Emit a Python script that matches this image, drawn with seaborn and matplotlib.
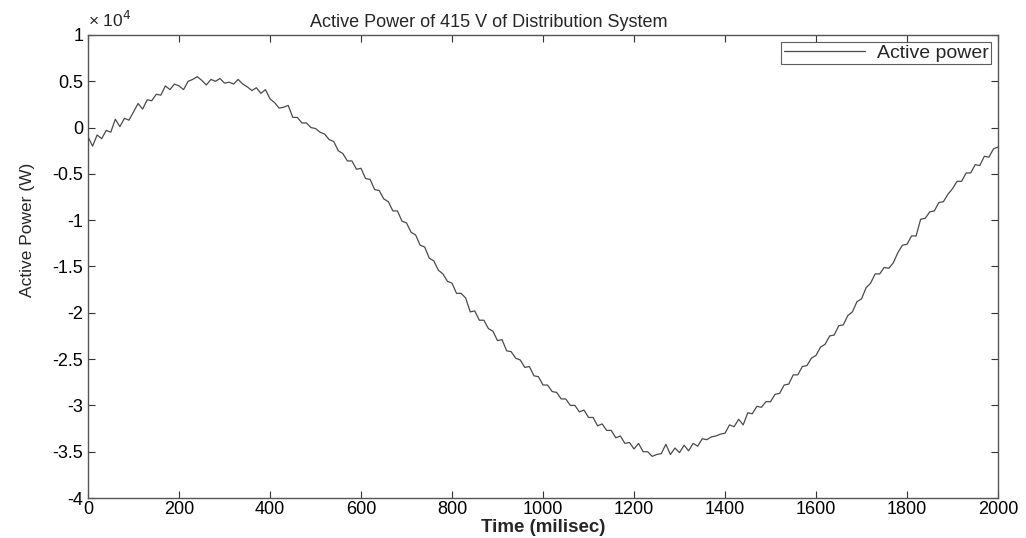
import numpy as np
import pandas as pd
import matplotlib
matplotlib.use("Agg")
import matplotlib.pyplot as plt
from matplotlib.ticker import FuncFormatter, MultipleLocator
import seaborn as sns

# ── Data (time in ms, power in kW) ───────────────────────────────────────────
time_ms = np.arange(0, 2001, 10)

power_kw = [
    -1.0, -2.0, -0.8, -1.2, -0.3, -0.5, 0.9, 0.1, 1.0, 0.8,
    1.7, 2.6, 2.0, 3.0, 2.9, 3.6, 3.5, 4.5, 4.1, 4.7,
    4.5, 4.1, 5.0, 5.2, 5.5, 5.1, 4.6, 5.2, 5.0, 5.3,
    4.8, 4.9, 4.7, 5.2, 4.7, 4.4, 4.0, 4.3, 3.7, 4.1,
    3.1, 2.7, 2.1, 2.2, 2.4, 1.1, 1.1, 0.5, 0.5, 0.0,
    -0.1, -0.5, -0.7, -1.3, -1.5, -2.5, -2.8, -3.6, -3.6, -4.5,
    -4.4, -5.5, -5.6, -6.7, -6.8, -7.7, -8.0, -9.0, -9.0, -10.1,
    -10.3, -11.3, -11.6, -12.7, -12.9, -14.1, -14.4, -15.4, -15.8, -16.6,
    -16.8, -17.9, -17.9, -18.4, -19.9, -19.8, -20.8, -20.8, -21.7, -22.0,
    -23.0, -22.9, -24.1, -24.2, -24.9, -25.1, -25.9, -25.8, -26.8, -26.9,
    -27.8, -27.8, -28.5, -28.6, -29.3, -29.3, -30.0, -30.0, -30.7, -30.5,
    -31.3, -31.3, -32.2, -32.0, -32.7, -32.7, -33.5, -33.3, -34.1, -34.0,
    -34.7, -34.1, -35.0, -35.0, -35.5, -35.3, -35.2, -34.2, -35.3, -34.6,
    -35.1, -34.3, -34.9, -34.1, -34.4, -33.6, -33.7, -33.4, -33.3, -33.1,
    -33.0, -32.1, -32.3, -31.5, -32.1, -30.8, -30.9, -30.1, -30.2, -29.6,
    -29.6, -28.8, -28.7, -27.8, -27.7, -26.7, -26.7, -25.8, -25.7, -24.9,
    -24.6, -23.7, -23.4, -22.5, -22.4, -21.4, -21.3, -20.3, -19.9, -18.8,
    -18.5, -17.3, -16.8, -15.8, -15.8, -15.1, -15.2, -14.6, -13.5, -12.7,
    -12.6, -11.7, -11.7, -9.9, -9.8, -9.1, -9.0, -8.1, -8.0, -7.2,
    -6.6, -5.8, -5.8, -4.9, -4.9, -4.0, -4.1, -3.1, -3.2, -2.3,
    -2.1,
]

df = pd.DataFrame({"time": time_ms, "power": np.array(power_kw) * 1000.0})

# ── Style (MATLAB-ish) ───────────────────────────────────────────────────────
sns.set_style("ticks")
plt.rcParams["font.family"] = ["Liberation Sans", "DejaVu Sans"]
plt.rcParams["xtick.direction"] = "in"
plt.rcParams["ytick.direction"] = "in"

fig = plt.figure(figsize=(10.26, 5.38), dpi=100)
ax = fig.add_axes([0.0858, 0.0743, 0.8869, 0.8607])

sns.lineplot(data=df, x="time", y="power", ax=ax, color="#4a4a4a",
             linewidth=0.9, label="Active power")

ax.set_xlim(0, 2000)
ax.set_ylim(-40000, 10000)
ax.xaxis.set_major_locator(MultipleLocator(200))
ax.yaxis.set_major_locator(MultipleLocator(5000))
ax.yaxis.set_major_formatter(FuncFormatter(lambda v, p: f"{v / 1e4:g}"))
ax.tick_params(axis="both", which="both", top=True, right=True,
               labelsize=13, length=5, width=0.8, colors="#333333",
               labelcolor="black")
ax.tick_params(axis="x", pad=2)
for side in ax.spines.values():
    side.set_color("#555555")
    side.set_linewidth(1.0)

ax.text(0.0, 1.01, r"× 10$^4$", transform=ax.transAxes,
        ha="left", va="bottom", fontsize=12.5)

ax.set_title("Active Power of 415 V of Distribution System",
             fontsize=13, pad=6, x=0.44)
ax.set_xlabel("Time (milisec)", fontsize=13.5, fontweight="bold", labelpad=1)
ax.set_ylabel("Active Power (W)", fontsize=12.5, labelpad=2,
              family=["Liberation Sans Narrow", "Liberation Sans"])
ax.yaxis.set_label_coords(-0.058, 0.58)

leg = ax.legend(loc="upper right", fontsize=14, frameon=True, fancybox=False,
                handlelength=4.2, handletextpad=0.6, borderaxespad=0.35,
                borderpad=0.12)
leg.get_frame().set_edgecolor("#333333")
leg.get_frame().set_linewidth(0.8)

fig.savefig("out.png", dpi=100)
